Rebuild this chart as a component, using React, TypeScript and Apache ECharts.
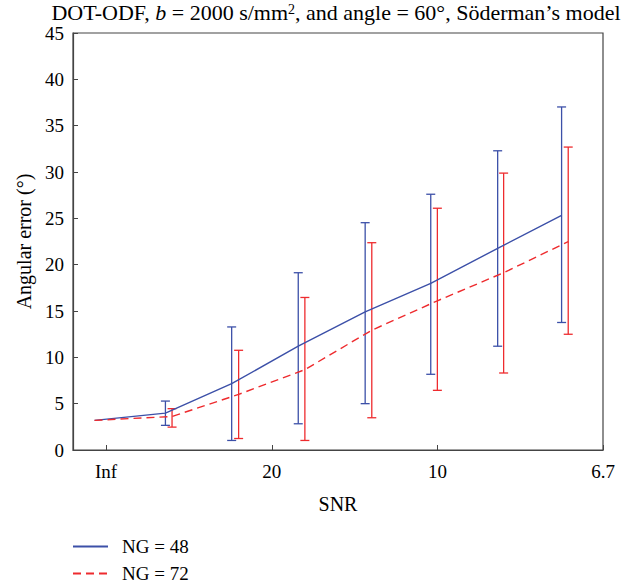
import React, { useEffect, useRef } from 'react';
import * as echarts from 'echarts';

// x is 1/SNR (Inf -> 0)
const tickValues = [0, 0.05, 0.1, 0.15];
const tickLabels = ['Inf', '20', '10', '6.7'];

const xBlue = [-0.0035, 0.0179, 0.0379, 0.058, 0.0782, 0.098, 0.1182, 0.1375];
const meanBlue = [3.2, 3.98, 7.16, 11.2, 14.9, 17.98, 21.76, 25.33];
const lowBlue = [null, 2.66, 1.03, 2.83, 5.0, 8.17, 11.2, 13.76];
const highBlue = [null, 5.28, 13.28, 19.13, 24.53, 27.6, 32.29, 37.02];

const xRed = [-0.0035, 0.0199, 0.04, 0.06, 0.0802, 0.1, 0.12, 0.1395];
const meanRed = [3.2, 3.62, 6.0, 8.67, 12.93, 16.1, 19.13, 22.48];
const lowRed = [null, 2.47, 1.24, 1.03, 3.48, 6.44, 8.31, 12.49];
const highRed = [null, 4.46, 10.76, 16.46, 22.37, 26.09, 29.88, 32.69];

const BLUE = '#3C50A8';
const RED = '#EE2B2E';
const FONT = '"Liberation Serif", "DejaVu Serif", serif';

function errData(xs: number[], lo: (number | null)[], hi: (number | null)[]) {
  const out: number[][] = [];
  xs.forEach((x, i) => {
    if (lo[i] != null && hi[i] != null) out.push([x, lo[i] as number, hi[i] as number]);
  });
  return out;
}

function errSeries(name: string, color: string, data: number[][]) {
  return {
    type: 'custom',
    name,
    data,
    encode: { x: 0, y: [1, 2] },
    z: 1,
    renderItem: (params: any, api: any) => {
      const x = api.value(0);
      const p1 = api.coord([x, api.value(1)]);
      const p2 = api.coord([x, api.value(2)]);
      const w = 4.5;
      const style = { stroke: color, lineWidth: 1.3, fill: 'none' };
      return {
        type: 'group',
        children: [
          { type: 'line', shape: { x1: p1[0], y1: p1[1], x2: p2[0], y2: p2[1] }, style },
          { type: 'line', shape: { x1: p1[0] - w, y1: p1[1], x2: p1[0] + w, y2: p1[1] }, style },
          { type: 'line', shape: { x1: p2[0] - w, y1: p2[1], x2: p2[0] + w, y2: p2[1] }, style },
        ],
      };
    },
  };
}

export default function App() {
  const ref = useRef<HTMLDivElement>(null);
  useEffect(() => {
    const chart = echarts.init(ref.current!, undefined, { renderer: 'svg' });
    chart.setOption({
      animation: false,
      backgroundColor: '#ffffff',
      textStyle: { fontFamily: FONT, color: '#000' },
      title: {
        text: '{n|DOT-ODF, }{i|b}{n| = 2000 s/mm}{s|2}{n|, and angle = 60°, Söderman’s model}',
        left: 331,
        textAlign: 'center',
        top: 0,
        padding: [2, 5, 0, 5],
        textStyle: {
          fontWeight: 'normal',
          rich: {
            n: { fontFamily: FONT, fontSize: 22, fontWeight: 'normal', color: '#000', lineHeight: 21 },
            i: { fontFamily: FONT, fontSize: 22, fontWeight: 'normal', fontStyle: 'italic', color: '#000', lineHeight: 21 },
            s: { fontFamily: FONT, fontSize: 14, fontWeight: 'normal', color: '#000', verticalAlign: 'top', lineHeight: 21 },
          },
        },
      },
      legend: {
        data: ['NG = 48', 'NG = 72'],
        orient: 'vertical',
        left: 72,
        top: 537,
        padding: 0,
        height: 50,
        itemWidth: 35,
        itemHeight: 14,
        itemGap: 8,
        itemStyle: { color: 'rgba(0,0,0,0)', borderColor: 'rgba(0,0,0,0)', borderWidth: 0, opacity: 0 },
        textStyle: { fontFamily: FONT, fontSize: 19, lineHeight: 18, color: '#000', padding: [0, 0, 0, 9] },
      },
      grid: {
        left: 73,
        right: 32,
        top: 33,
        bottom: 138,
        show: true,
        borderColor: '#444',
        borderWidth: 1.2,
      },
      xAxis: {
        type: 'value',
        min: -0.01,
        max: 0.15,
        name: 'SNR',
        nameLocation: 'middle',
        nameGap: 44,
        nameTextStyle: { fontFamily: FONT, fontSize: 20, color: '#000' },
        axisLine: { show: true, onZero: false, lineStyle: { color: '#444', width: 1.2 } },
        axisTick: { show: true, inside: true, length: 5, customValues: tickValues, lineStyle: { color: '#444' } },
        axisLabel: {
          customValues: tickValues,
          fontFamily: FONT,
          fontSize: 19,
          color: '#000',
          margin: 12,
          formatter: (v: number) => {
            const i = tickValues.findIndex((t) => Math.abs(t - v) < 1e-9);
            return i >= 0 ? tickLabels[i] : '';
          },
        },
        splitLine: { show: false },
      },
      yAxis: {
        type: 'value',
        min: 0,
        max: 45,
        interval: 5,
        name: 'Angular error (°)',
        nameLocation: 'middle',
        nameGap: 38,
        nameTextStyle: { fontFamily: FONT, fontSize: 20, color: '#000' },
        axisLine: { show: true, onZero: false, lineStyle: { color: '#444', width: 1.2 } },
        axisTick: { show: true, inside: true, length: 5, lineStyle: { color: '#444' } },
        axisLabel: { fontFamily: FONT, fontSize: 19, color: '#000', margin: 9 },
        splitLine: { show: false },
      },
      series: [
        errSeries('err48', BLUE, errData(xBlue, lowBlue, highBlue)),
        errSeries('err72', RED, errData(xRed, lowRed, highRed)),
        {
          type: 'line',
          name: 'NG = 48',
          data: xBlue.map((x, i) => [x, meanBlue[i]]),
          symbol: 'none',
          lineStyle: { color: BLUE, width: 1.4 },
          itemStyle: { color: BLUE },
          z: 3,
        },
        {
          type: 'line',
          name: 'NG = 72',
          data: xRed.map((x, i) => [x, meanRed[i]]),
          symbol: 'none',
          lineStyle: { color: RED, width: 1.4, type: [8, 5] },
          itemStyle: { color: RED },
          z: 3,
        },
      ],
    });
    return () => chart.dispose();
  }, []);
  return <div ref={ref} style={{ width: 635, height: 588, position: 'absolute', left: 0, top: 0 }} />;
}
